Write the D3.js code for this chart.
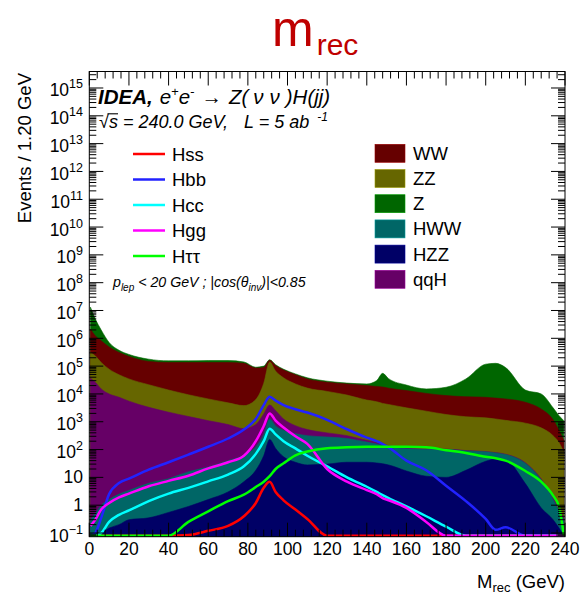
<!DOCTYPE html>
<html>
<head>
<meta charset="utf-8">
<script src="https://cdn.jsdelivr.net/npm/d3@7"></script>
<style>
  body { margin: 0; background: #fff; }
  svg { display: block; }
  text { font-family: "Liberation Sans", Arial, Helvetica, sans-serif; fill: #000; }
</style>
</head>
<body>
<svg id="chart" width="586" height="601"></svg>
<script>
// Recoil mass bin centres (GeV)
const mrec = [0.6, 3, 6, 10, 15, 20, 30, 40, 50, 60, 70, 78, 84, 88, 91, 94, 98, 104, 110, 120,
              130, 140, 145, 148, 151, 160, 170, 180, 190, 200, 205, 210, 220, 228, 234, 237, 239.4];

// Background processes (events per 1.2 GeV), stacked bottom to top
const HZZ = [0.05, 0.08, 0.1, 0.15, 0.2, 0.3, 0.35, 0.55, 0.9, 1.6, 3, 7, 18, 60, 230, 110, 55, 35, 28, 30,
             35, 35, 33, 31, 28, 17, 11, 10, 18, 38, 46, 42, 6, 0.8, 0.3, 0.15, 0.08];
const HWW = [0.25, 0.42, 0.9, 1.45, 2.3, 3.1, 5.8, 8.4, 15, 22, 37, 56, 108, 295, 1030, 600, 435, 337, 288, 252,
             216, 151, 125, 110, 98, 90, 89, 90, 71, 45, 30, 24, 26, 7.2, 1.3, 0.45, 0.22];
const qqH = [37000, 26300, 15100, 10000, 7600, 5500, 3300, 2190, 1530, 1070, 754, 500, 670, 1550, 2720, 1800, 770, 350, 210, 116,
             65, 28, 20, 15, 12, 8, 5, 4, 3, 2, 2, 2, 1.5, 0.8, 0.3, 0.1, 0.05];
const ZZ  = [272000, 208000, 120000, 67600, 41400, 29200, 18100, 11600, 7780, 5510, 4000, 3240, 5500, 22100, 137000, 63600, 36700, 22200, 15700, 11900,
             8800, 5800, 5070, 4410, 4030, 3045, 2295, 1716, 1420, 1295, 1180, 1054, 858, 594, 314, 177, 79];
const WW  = [1830000, 996000, 678000, 412000, 260000, 189000, 126500, 121000, 125600, 128300, 130100, 122100, 78800, 65100, 21000, 38600, 34400, 26100, 18500, 14000,
             13800, 13900, 13350, 13200, 12000, 10000, 8070, 6890, 6430, 6210, 5820, 5490, 4120, 2250, 860, 312, 135];
const Zqq = [11000000, 3780000, 1180000, 218000, 62500, 39100, 29900, 20000, 20000, 23600, 23600, 15350, 6100, 10900, 7600, 7500, 5200, 3500, 3300, 2540,
             1650, 2950, 11600, 37150, 19300, 7700, 4670, 8670, 26700, 109900, 118800, 82500, 8790, 7120, 1990, 1170, 880];

// Signal channels, drawn as lines (not stacked)
const Hss = [0, 0, 0, 0, 0, 0, 0, 0, 0.085, 0.12, 0.18, 0.4, 1.2, 4.2, 6.9, 3.0, 1.5, 0.7, 0.32, 0,
             0, 0, 0, 0, 0, 0, 0, 0, 0, 0, 0, 0, 0, 0, 0, 0, 0];
const Hbb = [0, 0.1, 0.35, 2.5, 6.3, 9, 19, 35, 66, 126, 250, 525, 1260, 3980, 7940, 5750, 3980, 2820, 2140, 1175,
             537, 269, 200, 158, 120, 40, 18, 5, 1.4, 0.32, 0.13, 0.16, 0, 0, 0, 0, 0];
const Hcc = [0, 0, 0.1, 0.25, 0.45, 0.65, 1.4, 2.6, 4.2, 7.2, 12.6, 25, 70, 200, 560, 350, 200, 110, 60, 25,
             10, 4.6, 3, 2.3, 1.8, 0.9, 0.4, 0.17, 0, 0, 0, 0, 0, 0, 0, 0, 0];
const Hgg = [0.18, 0.3, 0.7, 1.2, 1.9, 2.6, 4.8, 7.5, 11.5, 21, 35, 60, 200, 700, 2000, 1100, 620, 300, 160, 20,
             7, 3.5, 2.5, 1.8, 1.5, 0.8, 0.25, 0, 0, 0, 0, 0, 0, 0, 0, 0, 0];
const Htautau = [0, 0, 0, 0, 0, 0, 0, 0.08, 0.25, 0.6, 1.4, 2.4, 4.5, 7, 11, 20, 32, 62, 85, 112,
             120, 125, 126, 126, 126, 125, 120, 95, 75, 55, 49, 40, 17, 7, 2.2, 0.9, 0];

// Axis tick values
const xTicks = [0, 20, 40, 60, 80, 100, 120, 140, 160, 180, 200, 220, 240];
const yDecades = [-1, 0, 1, 2, 3, 4, 5, 6, 7, 8, 9, 10, 11, 12, 13, 14, 15];

const backgrounds = [
  { key: "HZZ", values: HZZ, color: "#000066" },
  { key: "HWW", values: HWW, color: "#006666" },
  { key: "qqH", values: qqH, color: "#660066" },
  { key: "ZZ",  values: ZZ,  color: "#666600" },
  { key: "WW",  values: WW,  color: "#660000" },
  { key: "Z",   values: Zqq, color: "#006600" }
];
const signals = [
  { key: "Hss", values: Hss, color: "#ff0000" },
  { key: "Hbb", values: Hbb, color: "#2222ff" },
  { key: "Hcc", values: Hcc, color: "#00ffff" },
  { key: "Hgg", values: Hgg, color: "#ff00ff" },
  { key: "Hττ", values: Htautau, color: "#00ff00" }
];
const legendOrder = ["WW", "ZZ", "Z", "HWW", "HZZ", "qqH"];

// Frame geometry
const X0 = 89.3, X1 = 565, Y0 = 71.5, Y1 = 536.7;
const yMin = Math.pow(10, -1.133), yMax = Math.pow(10, 15.593);

const x = d3.scaleLinear().domain([0, 240]).range([X0, X1]);
const y = d3.scaleLog().domain([yMin, yMax]).range([Y1, Y0]).clamp(true);

const svg = d3.select("#chart");
svg.append("defs").append("clipPath").attr("id", "frame-clip")
  .append("rect").attr("x", X0).attr("y", Y0).attr("width", X1 - X0).attr("height", Y1 - Y0);

// Stacked backgrounds: each cumulative area is filled from the floor, top layer first
const rows = mrec.map((m, i) => {
  const r = { m };
  backgrounds.forEach(b => { r[b.key] = b.values[i]; });
  return r;
});
const stacked = d3.stack().keys(backgrounds.map(b => b.key))(rows);

const plot = svg.append("g").attr("clip-path", "url(#frame-clip)");
const area = d3.area()
  .x(d => x(d.data.m))
  .y0(Y1)
  .y1(d => y(Math.max(d[1], yMin)))
  .curve(d3.curveMonotoneX);

stacked.slice().reverse().forEach(s => {
  const b = backgrounds.find(bb => bb.key === s.key);
  plot.append("path").datum(s)
    .attr("d", area)
    .attr("fill", b.color)
    .attr("stroke", b.color)
    .attr("stroke-width", 0.6);
});

// Signal lines
const floorVal = y.invert(Y1 - 1);
signals.forEach(sg => {
  const line = d3.line()
    .x((v, i) => x(mrec[i]))
    .y(v => y(Math.max(v, floorVal)))
    .curve(d3.curveMonotoneX);
  plot.append("path").datum(sg.values)
    .attr("d", line)
    .attr("fill", "none")
    .attr("stroke", sg.color)
    .attr("stroke-width", 2.5)
    .attr("stroke-linejoin", "round");
});

// Frame and ticks
const axes = svg.append("g").attr("stroke", "#000").attr("stroke-width", 1).attr("fill", "none");
axes.append("rect").attr("x", X0).attr("y", Y0).attr("width", X1 - X0).attr("height", Y1 - Y0);

const tickPath = [];
d3.range(0, 241, 4).forEach(v => {
  const len = (v % 20 === 0) ? 14 : 7;
  const px = x(v);
  tickPath.push(`M${px},${Y1}V${Y1 - len}`, `M${px},${Y0}V${Y0 + len}`);
});
for (let k = -2; k <= 15; k++) {
  for (let j = 1; j <= 9; j++) {
    const v = j * Math.pow(10, k);
    if (v < yMin || v > yMax) continue;
    const len = j === 1 ? 14 : 7;
    const py = y(v);
    tickPath.push(`M${X0},${py}H${X0 + len}`, `M${X1},${py}H${X1 - len}`);
  }
}
axes.append("path").attr("d", tickPath.join(""));

// Tick labels
const labels = svg.append("g");
xTicks.forEach(v => {
  labels.append("text").attr("x", x(v)).attr("y", 555)
    .attr("text-anchor", "middle").attr("font-size", 17.5).text(v);
});
yDecades.forEach(k => {
  const t = labels.append("text").attr("x", 83).attr("text-anchor", "end").attr("font-size", 17.5);
  if (k === 0 || k === 1) {
    t.attr("y", y(Math.pow(10, k)) + 6).text(k === 0 ? "1" : "10");
  } else {
    t.attr("y", y(Math.pow(10, k)) + 8.5);
    t.append("tspan").text("10");
    t.append("tspan").attr("font-size", 12.5).attr("dy", -8).text(k < 0 ? "\u2212" + (-k) : String(k));
  }
});

// Axis titles
svg.append("text")
  .attr("transform", "translate(31,73) rotate(-90)")
  .attr("text-anchor", "end").attr("font-size", 18.5)
  .text("Events / 1.20 GeV");
const xt = svg.append("text").attr("x", X1).attr("y", 588).attr("text-anchor", "end").attr("font-size", 18.5);
xt.append("tspan").text("M");
xt.append("tspan").attr("font-size", 13).attr("dy", 4).text("rec");
xt.append("tspan").attr("dy", -4).text(" (GeV)");

// Title
const title = svg.append("text").attr("x", 272).attr("y", 46).style("fill", "#bf0000");
title.append("tspan").attr("font-size", 50).text("m");
title.append("tspan").attr("font-size", 30).attr("dx", 3).attr("dy", 9).text("rec");

// Header text: detector and process
const h1 = svg.append("text").attr("x", 98).attr("y", 104).attr("font-size", 20.5).attr("font-style", "italic");
h1.append("tspan").attr("font-weight", "bold").text("IDEA,");
h1.append("tspan").attr("dx", 7).text("e");
h1.append("tspan").attr("font-size", 13).attr("dy", -8).text("+");
h1.append("tspan").attr("dy", 8).text("e");
h1.append("tspan").attr("font-size", 13).attr("dy", -8).text("-");
h1.append("tspan").attr("dy", 8).attr("dx", 7).text("\u2192");
h1.append("tspan").attr("dx", 7).text("Z(");
h1.append("tspan").attr("dx", 5).text("\u03bd");
h1.append("tspan").attr("dx", 6).text("\u03bd");
h1.append("tspan").attr("dx", 6).text(")H(jj)");

// Header text: energy and luminosity
const h2 = svg.append("text").attr("x", 99).attr("y", 128).attr("font-size", 18).attr("font-style", "italic");
h2.append("tspan").text("\u221as = 240.0 GeV,");
h2.append("tspan").attr("x", 244).text("L = 5 ab");
h2.append("tspan").attr("font-size", 12).attr("dx", 8).attr("dy", -7).text("-1");
svg.append("line").attr("x1", 107.5).attr("x2", 118).attr("y1", 113.8).attr("y2", 113.8)
  .attr("stroke", "#000").attr("stroke-width", 1.1);

// Signal legend
signals.forEach((sg, i) => {
  const cy = 154 + 25.5 * i;
  svg.append("line").attr("x1", 133).attr("x2", 165).attr("y1", cy).attr("y2", cy)
    .attr("stroke", sg.color).attr("stroke-width", 2.5);
  svg.append("text").attr("x", 172).attr("y", cy + 6.5).attr("font-size", 18.5).text(sg.key);
});

// Selection cuts
const cut = svg.append("text").attr("x", 113).attr("y", 287).attr("font-size", 14.2).attr("font-style", "italic");
cut.append("tspan").text("p");
cut.append("tspan").attr("font-size", 10).attr("dy", 4).text("lep");
cut.append("tspan").attr("dy", -4).text(" < 20 GeV ; |cos(\u03b8");
cut.append("tspan").attr("font-size", 10).attr("dy", 4).text("inv");
cut.append("tspan").attr("dy", -4).text(")|<0.85");

// Background legend
legendOrder.forEach((key, i) => {
  const b = backgrounds.find(bb => bb.key === key);
  const cy = 153.3 + 25.2 * i;
  svg.append("rect").attr("x", 375).attr("y", cy - 9).attr("width", 30).attr("height", 18)
    .attr("fill", b.color).attr("stroke", d3.color(b.color).brighter(1.2)).attr("stroke-width", 0.6);
  svg.append("text").attr("x", 413).attr("y", cy + 6.5).attr("font-size", 18.5).text(key);
});
</script>
</body>
</html>
